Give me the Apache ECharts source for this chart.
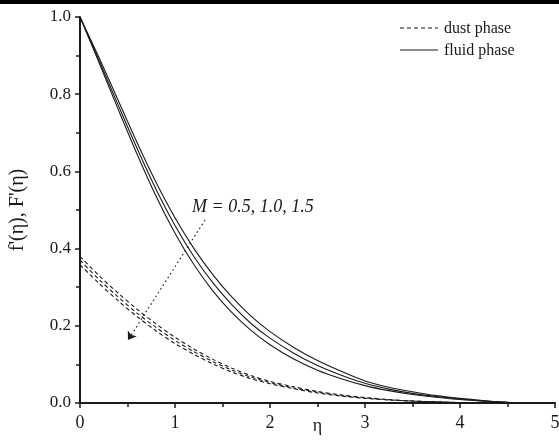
<!DOCTYPE html>
<html>
<head>
<meta charset="utf-8">
<script src="https://cdn.jsdelivr.net/npm/echarts@6/dist/echarts.min.js"></script>
<style>html,body{margin:0;padding:0;background:#fff;}#c{width:559px;height:445px;}</style>
</head>
<body>
<div id="c"></div>
<script>
var eta = [0, 0.2, 0.4, 0.6, 0.8, 1.0, 1.2, 1.4, 1.6, 1.8, 2.0, 2.25, 2.5, 2.75, 3.0, 3.25, 3.5, 3.75, 4.0, 4.3, 4.6];
var fluidM05 = [1.0, 0.895, 0.785, 0.675, 0.572, 0.480, 0.400, 0.332, 0.274, 0.225, 0.185, 0.144, 0.110, 0.082, 0.057, 0.041, 0.029, 0.019, 0.012, 0.005, 0.0];
var fluidM10 = [1.0, 0.888, 0.773, 0.660, 0.554, 0.460, 0.379, 0.311, 0.254, 0.206, 0.168, 0.129, 0.097, 0.072, 0.051, 0.036, 0.025, 0.017, 0.0105, 0.0045, 0.0];
var fluidM15 = [1.0, 0.882, 0.762, 0.645, 0.536, 0.440, 0.358, 0.290, 0.234, 0.188, 0.151, 0.114, 0.085, 0.063, 0.045, 0.032, 0.022, 0.015, 0.009, 0.004, 0.0];
var dustM05 = [0.380, 0.330, 0.285, 0.243, 0.205, 0.170, 0.140, 0.113, 0.090, 0.071, 0.056, 0.042, 0.030, 0.021, 0.014, 0.009, 0.005, 0.003, 0.001, 0.0, 0.0];
var dustM10 = [0.370, 0.320, 0.275, 0.233, 0.196, 0.162, 0.133, 0.107, 0.085, 0.067, 0.053, 0.039, 0.028, 0.019, 0.013, 0.008, 0.005, 0.003, 0.001, 0.0, 0.0];
var dustM15 = [0.358, 0.310, 0.265, 0.224, 0.187, 0.154, 0.126, 0.101, 0.080, 0.063, 0.050, 0.037, 0.026, 0.018, 0.012, 0.008, 0.005, 0.003, 0.001, 0.0, 0.0];
var xTicks = [0, 1, 2, 3, 4, 5];
var yTicks = [0.0, 0.2, 0.4, 0.6, 0.8, 1.0];
var arrowStart = [1.316, 0.474];
var arrowEnd = [0.505, 0.163];
var labelAt = [1.18, 0.508];
var labelText = 'M = 0.5, 1.0, 1.5';
var legendNames = ['dust phase', 'fluid phase'];

function pairs(v) { return eta.map(function (x, i) { return [x, v[i]]; }); }
var font = 'Liberation Serif';
var ink = '#1a1a1a';
var dash = [4, 3];

function lineSeries(name, vals, dashed) {
  return {
    type: 'line', name: name, data: pairs(vals), smooth: 0.3, symbol: 'none',
    lineStyle: { color: ink, width: 1.1, type: dashed ? dash : 'solid' },
    itemStyle: { color: ink },
    silent: true, animation: false
  };
}

var annot = lineSeries(legendNames[1], fluidM15, false);
annot.markLine = {
  silent: true, animation: false,
  symbol: ['none', 'arrow'], symbolSize: 8,
  itemStyle: { color: ink },
  lineStyle: { color: ink, type: [1.5, 3], width: 1.2 },
  label: { show: false },
  emphasis: { disabled: true },
  data: [[{ coord: arrowStart, symbol: 'none' }, { coord: arrowEnd, symbol: 'arrow', symbolSize: 8 }]]
};
annot.markPoint = {
  silent: true, animation: false,
  symbol: 'circle', symbolSize: 0,
  label: { show: true, position: 'right', distance: 0, formatter: labelText,
    fontFamily: font, fontStyle: 'italic', fontSize: 18, color: ink },
  data: [{ coord: labelAt }]
};

var chart = echarts.init(document.getElementById('c'), null, { renderer: 'canvas' });
chart.setOption({
  backgroundColor: '#fff',
  animation: false,
  grid: { left: 80, right: 4, top: 17, bottom: 42, containLabel: false, outerBoundsMode: 'none' },
  xAxis: {
    type: 'value', min: 0, max: 5, interval: 1,
    name: 'η', nameLocation: 'middle', nameGap: 14, nameMoveOverlap: false,
    nameTextStyle: { fontFamily: font, fontSize: 18, color: ink },
    axisLine: { show: true, lineStyle: { color: ink, width: 2 } },
    axisTick: { show: true, inside: false, length: 5, lineStyle: { color: ink, width: 1.5 } },
    minorTick: { show: true, splitNumber: 2, length: 4, lineStyle: { color: ink, width: 1.5 } },
    splitLine: { show: false },
    axisLabel: { fontFamily: font, fontSize: 18, color: ink, margin: 11,
      formatter: function (v) { return xTicks.indexOf(v) >= 0 ? String(v) : ''; } }
  },
  yAxis: {
    type: 'value', min: 0, max: 1, interval: 0.2,
    name: "f'(η), F'(η)", nameLocation: 'middle', nameGap: 52, nameRotate: 90, nameMoveOverlap: false,
    nameTextStyle: { fontFamily: font, fontSize: 20, color: ink },
    axisLine: { show: true, lineStyle: { color: ink, width: 2 } },
    axisTick: { show: true, inside: false, length: 5, lineStyle: { color: ink, width: 1.5 } },
    minorTick: { show: true, splitNumber: 2, length: 4, lineStyle: { color: ink, width: 1.5 } },
    splitLine: { show: false },
    axisLabel: { fontFamily: font, fontSize: 17, color: ink, margin: 9,
      formatter: function (v) { return v.toFixed(1); } }
  },
  series: [
    lineSeries(legendNames[0], dustM05, true),
    lineSeries(legendNames[0], dustM10, true),
    lineSeries(legendNames[0], dustM15, true),
    lineSeries(legendNames[1], fluidM05, false),
    lineSeries(legendNames[1], fluidM10, false),
    annot
  ],
  graphic: [
    { type: 'rect', left: 0, top: 0, shape: { width: 559, height: 4 }, style: { fill: '#000' }, silent: true },
    { type: 'line', shape: { x1: 400, y1: 28, x2: 438, y2: 28 }, style: { stroke: ink, lineWidth: 1.1, lineDash: dash }, silent: true },
    { type: 'text', left: 444, top: 21, style: { text: legendNames[0], font: '16px "Liberation Serif"', fill: ink }, silent: true },
    { type: 'line', shape: { x1: 400, y1: 50, x2: 438, y2: 50 }, style: { stroke: ink, lineWidth: 1.1 }, silent: true },
    { type: 'text', left: 444, top: 43, style: { text: legendNames[1], font: '16px "Liberation Serif"', fill: ink }, silent: true }
  ]
});
</script>
</body>
</html>
